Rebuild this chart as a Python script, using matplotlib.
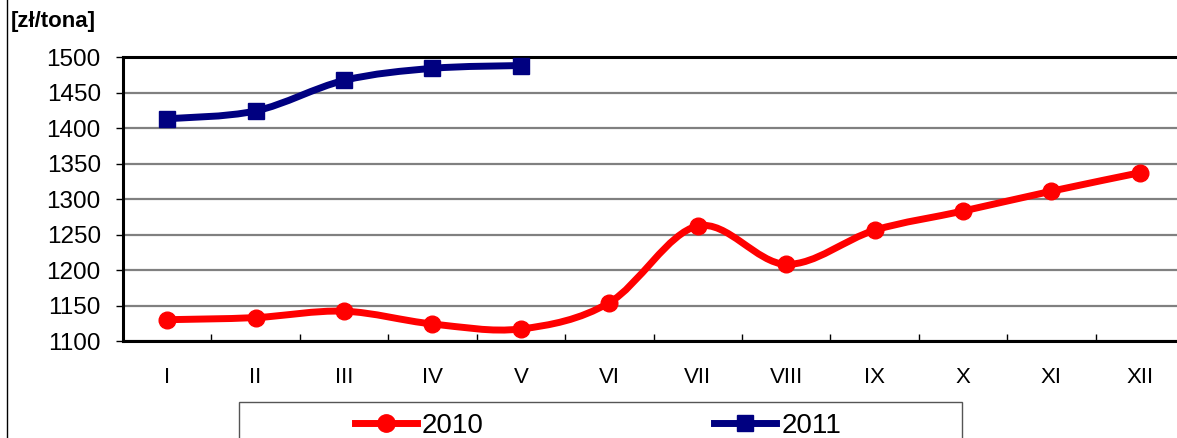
import matplotlib.pyplot as plt
from matplotlib.path import Path
from matplotlib.patches import PathPatch, Rectangle
from matplotlib.lines import Line2D

plt.rcParams['font.family'] = ['Liberation Sans', 'DejaVu Sans']

months     = ["I", "II", "III", "IV", "V", "VI", "VII", "VIII", "IX", "X", "XI", "XII"]
price_2010 = [1130, 1133, 1142, 1124, 1117, 1154, 1262, 1208, 1256, 1283, 1311, 1337]
price_2011 = [1413, 1424, 1467, 1484, 1488]
y_ticks    = [1100, 1150, 1200, 1250, 1300, 1350, 1400, 1450, 1500]

red  = "#ff0000"
navy = "#000080"


def smooth_path(xs, ys):
    # excel-like smoothed line: catmull-rom segments as cubic beziers
    pts = list(zip(xs, ys))
    verts = [pts[0]]
    codes = [Path.MOVETO]
    for i in range(len(pts) - 1):
        p0 = pts[i - 1] if i > 0 else pts[i]
        p1 = pts[i]
        p2 = pts[i + 1]
        p3 = pts[i + 2] if i + 2 < len(pts) else pts[i + 1]
        c1 = (p1[0] + (p2[0] - p0[0]) / 6, p1[1] + (p2[1] - p0[1]) / 6)
        c2 = (p2[0] - (p3[0] - p1[0]) / 6, p2[1] - (p3[1] - p1[1]) / 6)
        verts += [c1, c2, p2]
        codes += [Path.CURVE4] * 3
    return Path(verts, codes)


def add_series(axis, values, color, marker, msize):
    xs = list(range(len(values)))
    patch = PathPatch(smooth_path(xs, values), fill=False, edgecolor=color,
                      linewidth=5, capstyle='round', joinstyle='round', zorder=3)
    axis.add_patch(patch)
    axis.plot(xs, values, linestyle='none', marker=marker, markersize=msize,
              color=color, zorder=4)


fig = plt.figure(figsize=(11.77, 4.38), dpi=100)
ax = fig.add_axes([123 / 1177, 97 / 438, 1061 / 1177, 284 / 438])

add_series(ax, price_2010, red, 'o', 12)
add_series(ax, price_2011, navy, 's', 11.5)

ax.set_xlim(-0.5, len(months) - 0.5)
ax.set_ylim(1100, 1500)
ax.set_yticks(y_ticks)
ax.set_xticks(range(len(months)))
ax.set_xticklabels(months)
ax.set_xticks([i + 0.5 for i in range(len(months) - 1)], minor=True)
ax.tick_params(axis='x', which='major', length=0, pad=19, labelsize=16)
ax.tick_params(axis='x', which='minor', direction='in', length=5, width=1)
ax.tick_params(axis='y', length=5, width=1, pad=11, labelsize=17.5)
ax.grid(axis='y', color='#808080', linewidth=1.6)
ax.set_axisbelow(True)
for side in ['left', 'bottom', 'top']:
    ax.spines[side].set_linewidth(2.2)
    ax.spines[side].set_color('black')
ax.spines['right'].set_visible(False)

fig.text(11 / 1177, 1 - 22 / 438, "[zł/tona]", fontsize=16, fontweight='bold',
         va='center', ha='left')

# outer chart border on the left
fig.add_artist(Line2D([7 / 1177, 7 / 1177], [0, 1], color='black', linewidth=1))

# legend box, cut off at the bottom
fig.add_artist(Rectangle((239 / 1177, -0.05), (962 - 239) / 1177, 0.05 + 36 / 438,
                         fill=False, edgecolor='#555555', linewidth=1))
handles = [
    Line2D([], [], color=red, linewidth=5, marker='o', markersize=12.5),
    Line2D([], [], color=navy, linewidth=5, marker='s', markersize=12),
]
fig.legend(handles, ["2010", "2011"], ncol=2, frameon=False, fontsize=20,
           loc='center left', bbox_to_anchor=(355 / 1177, 1 - 426 / 438),
           handlelength=2.23, handletextpad=0.18, columnspacing=8.3,
           borderpad=0, borderaxespad=0)

fig.savefig("out.png", dpi=100)
